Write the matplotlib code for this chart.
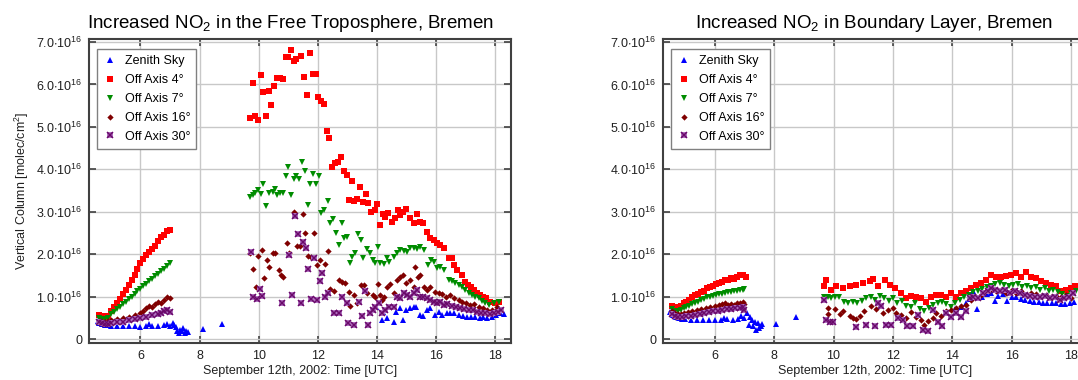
import matplotlib
matplotlib.use("Agg")
import matplotlib.pyplot as plt
from matplotlib.ticker import FixedLocator, FuncFormatter

plt.rcParams['font.family'] = ['Liberation Sans', 'DejaVu Sans']
plt.rcParams['mathtext.fontset'] = 'custom'
plt.rcParams['mathtext.rm'] = 'Liberation Sans'
plt.rcParams['mathtext.it'] = 'Liberation Sans:italic'
plt.rcParams['mathtext.bf'] = 'Liberation Sans:bold'
plt.rcParams['mathtext.default'] = 'regular'

# values in units of 1e16 molec/cm2, time in hours UTC
series_names = ["Zenith Sky", "Off Axis 4°", "Off Axis 7°", "Off Axis 16°", "Off Axis 30°"]

# ---------------- left panel: free troposphere ----------------
ft_zen_t = [4.55, 4.6, 4.7, 4.8, 4.9, 5.0, 5.2, 5.4, 5.6, 5.8, 6.0, 6.2, 6.3, 6.4, 6.6, 6.8, 6.9, 7.0,
            7.1, 7.15, 7.2, 7.25, 7.3, 7.35, 7.4, 7.45, 7.5, 7.55, 7.6, 8.1, 8.77,
            13.97, 14.17, 14.2, 14.34, 14.56, 14.65, 14.76, 14.88, 14.99, 15.1, 15.24, 15.33, 15.46,
            15.55, 15.69, 15.8, 15.97, 16.08, 16.2, 16.37, 16.48, 16.61, 16.76, 16.91, 17.04, 17.18,
            17.32, 17.47, 17.6, 17.73, 17.89, 18.03, 18.17, 18.3]
ft_zen_v = [0.42, 0.38, 0.35, 0.33, 0.32, 0.31, 0.31, 0.3, 0.3, 0.3, 0.29, 0.3, 0.35, 0.3, 0.31, 0.33, 0.35, 0.3,
            0.38, 0.32, 0.28, 0.2, 0.15, 0.22, 0.18, 0.25, 0.14, 0.2, 0.17, 0.24, 0.35,
            0.76, 0.45, 0.64, 0.49, 0.41, 0.64, 0.72, 0.45, 0.68, 0.72, 0.75, 0.76, 0.57,
            0.54, 0.68, 0.72, 0.57, 0.64, 0.57, 0.61, 0.62, 0.61, 0.57, 0.54, 0.53, 0.51,
            0.51, 0.5, 0.51, 0.49, 0.53, 0.57, 0.61, 0.59]

ft_4_t = [4.6, 4.7, 4.8, 4.9, 5.0, 5.1, 5.2, 5.3, 5.4, 5.5, 5.6, 5.7, 5.8, 5.9, 6.0, 6.1, 6.2, 6.3, 6.4,
          6.5, 6.6, 6.7, 6.8, 6.9, 7.0,
          9.69, 9.79, 9.88, 9.97, 10.07, 10.16, 10.25, 10.34, 10.43, 10.52, 10.63, 10.73, 10.82, 10.92,
          11.0, 11.09, 11.18, 11.27, 11.44, 11.54, 11.63, 11.72, 11.83, 11.93, 12.01, 12.1, 12.19,
          12.3, 12.39, 12.49, 12.59, 12.68, 12.78, 12.87, 12.97, 13.06, 13.16, 13.23, 13.33, 13.43,
          13.52, 13.64, 13.71, 13.8, 13.92, 14.0, 14.11, 14.2, 14.28, 14.36, 14.5, 14.62, 14.7, 14.79,
          14.88, 14.99, 15.1, 15.24, 15.35, 15.46, 15.55, 15.69, 15.8, 15.91, 16.03, 16.14, 16.27,
          16.42, 16.53, 16.61, 16.72, 16.87, 16.98, 17.06, 17.18, 17.27, 17.38, 17.49, 17.58, 17.69,
          17.83, 18.0, 18.11]
ft_4_v = [0.57, 0.55, 0.52, 0.55, 0.65, 0.75, 0.85, 0.95, 1.05, 1.15, 1.27, 1.4, 1.52, 1.65, 1.78, 1.88,
          1.98, 2.05, 2.12, 2.2, 2.3, 2.4, 2.45, 2.55, 2.57,
          5.2, 6.03, 5.26, 5.15, 6.21, 5.81, 5.26, 5.85, 5.52, 5.96, 6.16, 6.14, 6.13, 6.64,
          6.64, 6.81, 6.56, 6.6, 6.68, 6.18, 5.76, 6.74, 6.25, 6.25, 5.71, 5.62, 5.54,
          4.91, 4.74, 4.06, 4.14, 4.16, 4.28, 3.97, 3.86, 3.28, 3.73, 3.26, 3.29, 3.59,
          3.22, 3.42, 3.21, 3.0, 3.04, 3.18, 2.69, 2.95, 2.88, 2.96, 2.76, 2.84, 3.04, 2.92,
          3.0, 3.06, 2.84, 2.73, 2.95, 2.76, 2.73, 2.53, 2.37, 2.33, 2.26, 2.22, 2.14,
          1.9, 1.9, 1.74, 1.63, 1.51, 1.35, 1.27, 1.23, 1.15, 1.08, 1.04, 1.0, 0.96,
          0.88, 0.86, 0.88]

ft_7_t = [4.6, 4.7, 4.8, 4.9, 5.0, 5.1, 5.2, 5.3, 5.4, 5.5, 5.6, 5.7, 5.8, 5.9, 6.0, 6.1, 6.2, 6.3, 6.4,
          6.5, 6.6, 6.7, 6.8, 6.9, 7.0,
          9.69, 9.79, 9.88, 9.99, 10.07, 10.16, 10.25, 10.36, 10.47, 10.56, 10.63, 10.73, 10.82, 10.92,
          11.0, 11.1, 11.18, 11.27, 11.37, 11.46, 11.55, 11.65, 11.74, 11.85, 11.94, 12.04, 12.12,
          12.19, 12.33, 12.42, 12.51, 12.61, 12.7, 12.8, 12.89, 12.98, 13.07, 13.17, 13.26, 13.36,
          13.46, 13.54, 13.66, 13.75, 13.85, 13.94, 14.02, 14.11, 14.22, 14.34, 14.39, 14.56, 14.67,
          14.79, 14.9, 15.01, 15.12, 15.24, 15.35, 15.46, 15.58, 15.71, 15.82, 15.91, 16.03, 16.14,
          16.25, 16.42, 16.53, 16.65, 16.76, 16.87, 16.98, 17.1, 17.21, 17.32, 17.44, 17.55, 17.66,
          17.77, 17.94, 18.14]
ft_7_v = [0.5, 0.47, 0.47, 0.5, 0.58, 0.64, 0.7, 0.76, 0.82, 0.88, 0.94, 1.0, 1.06, 1.12, 1.18, 1.25,
          1.3, 1.36, 1.42, 1.48, 1.54, 1.6, 1.66, 1.72, 1.78,
          3.35, 3.39, 3.43, 3.51, 3.42, 3.65, 3.13, 3.43, 3.47, 3.53, 3.39, 3.43, 3.45, 3.83,
          4.06, 3.39, 3.76, 3.83, 3.76, 4.16, 3.97, 3.16, 3.65, 3.89, 3.65, 3.84, 2.96,
          3.04, 3.25, 2.73, 2.82, 2.49, 2.22, 2.74, 2.37, 2.41, 1.8, 1.94, 2.03, 2.47,
          2.33, 1.92, 2.11, 2.03, 1.86, 1.78, 2.16, 1.78, 1.76, 1.9, 1.82, 1.94, 2.02,
          2.1, 2.08, 2.06, 2.14, 2.14, 2.11, 2.16, 2.1, 1.74, 1.86, 1.82, 1.67, 1.7,
          1.63, 1.39, 1.37, 1.31, 1.27, 1.23, 1.15, 1.08, 1.04, 1.0, 0.96, 0.9, 0.86,
          0.8, 0.84, 0.88]

ft_16_t = [4.6, 4.7, 4.8, 4.9, 5.0, 5.2, 5.4, 5.6, 5.8, 6.0, 6.1, 6.2, 6.3, 6.4, 6.5, 6.6, 6.7, 6.8, 6.9, 7.0,
           9.71, 9.8, 9.9, 9.99, 10.11, 10.19, 10.28, 10.36, 10.47, 10.56, 10.67, 10.75, 10.82, 10.95,
           11.03, 11.2, 11.29, 11.38, 11.48, 11.57, 11.66, 11.76, 11.88, 11.97, 12.06, 12.24, 12.34,
           12.42, 12.53, 12.7, 12.81, 12.92, 13.04, 13.09, 13.21, 13.33, 13.47, 13.57, 13.66, 13.86,
           13.94, 14.03, 14.11, 14.17, 14.25, 14.34, 14.45, 14.56, 14.67, 14.79, 14.88, 14.99, 15.1,
           15.24, 15.29, 15.37, 15.46, 15.58, 15.69, 15.8, 15.97, 16.08, 16.2, 16.34, 16.48, 16.61,
           16.76, 16.87, 17.02, 17.15, 17.29, 17.44, 17.58, 17.72, 17.89, 18.06, 18.17]
ft_16_v = [0.42, 0.4, 0.4, 0.42, 0.44, 0.46, 0.49, 0.52, 0.56, 0.62, 0.66, 0.72, 0.78, 0.76, 0.82, 0.88,
           0.85, 0.92, 0.98, 0.96,
           2.03, 1.64, 1.23, 1.96, 2.1, 1.43, 1.86, 1.69, 2.03, 2.03, 1.63, 1.51, 1.45, 2.27,
           2.03, 3.0, 2.19, 2.19, 2.94, 2.49, 1.96, 1.94, 2.49, 1.74, 1.86, 1.77, 2.08,
           1.17, 1.14, 1.39, 1.35, 1.31, 1.11, 0.78, 1.04, 0.86, 1.27, 1.27, 1.08, 1.04,
           1.0, 1.3, 1.04, 0.92, 1.0, 1.23, 1.3, 1.08, 1.39, 1.47, 1.51, 1.31, 1.39,
           1.23, 1.69, 1.47, 1.51, 1.23, 1.15, 1.23, 1.11, 1.08, 1.06, 1.0, 1.04, 0.96,
           0.92, 0.88, 0.84, 0.8, 0.82, 0.76, 0.72, 0.68, 0.68, 0.76, 0.68]

ft_30_t = [4.6, 4.7, 4.8, 4.9, 5.0, 5.2, 5.4, 5.6, 5.8, 6.0, 6.2, 6.4, 6.6, 6.7, 6.8, 6.9, 7.0,
           9.73, 9.82, 9.94, 10.03, 10.12, 10.78, 11.03, 11.14, 11.23, 11.32, 11.43, 11.49, 11.6,
           11.68, 11.76, 11.88, 11.97, 12.07, 12.15, 12.25, 12.34, 12.53, 12.73, 12.83, 12.98, 13.02,
           13.21, 13.4, 13.49, 13.6, 13.68, 13.77, 13.86, 13.94, 14.05, 14.17, 14.28, 14.39, 14.56,
           14.67, 14.79, 14.9, 15.01, 15.12, 15.24, 15.35, 15.44, 15.55, 15.69, 15.8, 15.91, 16.03,
           16.14, 16.25, 16.37, 16.53, 16.68, 16.82, 16.95, 17.1, 17.24, 17.38, 17.52, 17.66, 17.81,
           17.94, 18.08, 18.19]
ft_30_v = [0.4, 0.37, 0.36, 0.36, 0.37, 0.39, 0.41, 0.44, 0.47, 0.5, 0.53, 0.56, 0.6, 0.62, 0.66, 0.68, 0.64,
           2.06, 1.0, 0.94, 1.17, 1.01, 0.86, 1.98, 1.04, 2.91, 2.47, 0.84, 2.28, 2.14,
           1.66, 0.94, 1.9, 0.92, 1.37, 1.55, 1.0, 1.08, 0.61, 0.61, 1.0, 0.86, 0.38,
           0.33, 0.88, 0.54, 1.13, 0.33, 0.61, 0.68, 0.76, 0.84, 0.61, 0.68, 0.76, 0.76,
           1.0, 0.96, 1.08, 1.04, 1.0, 1.08, 1.15, 1.0, 1.0, 0.96, 0.92, 0.88, 0.84,
           0.88, 0.8, 0.82, 0.78, 0.76, 0.72, 0.7, 0.68, 0.68, 0.64, 0.62, 0.61, 0.59,
           0.62, 0.64, 0.68]

# ---------------- right panel: boundary layer ----------------
bl_zen_t = [4.5, 4.6, 4.7, 4.8, 4.9, 5.0, 5.2, 5.4, 5.6, 5.8, 6.0, 6.2, 6.3, 6.4, 6.6, 6.8, 6.9, 7.0,
            7.1, 7.16, 7.2, 7.25, 7.3, 7.35, 7.4, 7.45, 7.5, 7.55, 7.6, 8.07, 8.75,
            14.1, 14.3, 14.45, 14.6, 14.7, 14.83, 15.0, 15.15, 15.3, 15.45, 15.55, 15.7, 15.85, 16.0,
            16.15, 16.3, 16.45, 16.6, 16.75, 16.9, 17.05, 17.2, 17.35, 17.5, 17.65, 17.8, 17.95, 18.1]
bl_zen_v = [0.63, 0.57, 0.52, 0.49, 0.47, 0.46, 0.45, 0.45, 0.44, 0.45, 0.44, 0.45, 0.5, 0.46, 0.45, 0.47, 0.55, 0.5,
            0.62, 0.34, 0.53, 0.45, 0.3, 0.4, 0.22, 0.38, 0.26, 0.3, 0.35, 0.36, 0.53,
            0.7, 0.75, 0.85, 0.95, 1.12, 0.7, 1.0, 1.05, 1.08, 0.9, 1.02, 1.05, 0.9, 1.0,
            0.98, 0.95, 0.92, 0.9, 0.88, 0.87, 0.86, 0.85, 0.84, 0.84, 0.83, 0.82, 0.84, 0.88]

bl_4_t = [4.55, 4.65, 4.75, 4.85, 4.95, 5.05, 5.15, 5.25, 5.35, 5.45, 5.55, 5.65, 5.75, 5.85, 5.95, 6.05,
          6.15, 6.25, 6.35, 6.45, 6.55, 6.65, 6.75, 6.85, 6.95, 7.05,
          9.67, 9.76, 9.93, 10.09, 10.32, 10.54, 10.77, 10.99, 11.22, 11.33, 11.5, 11.72, 11.89, 12.06,
          12.28, 12.45, 12.62, 12.79, 12.95, 13.12, 13.29, 13.46, 13.63, 13.8, 13.96, 14.13, 14.3,
          14.47, 14.64, 14.81, 14.97, 15.14, 15.31, 15.48, 15.65, 15.81, 15.98, 16.15, 16.32, 16.49,
          16.66, 16.82, 16.99, 17.16, 17.33, 17.5, 17.67, 17.84, 18.0, 18.11]
bl_4_v = [0.78, 0.75, 0.74, 0.78, 0.84, 0.88, 0.93, 0.98, 1.03, 1.06, 1.1, 1.14, 1.2, 1.23, 1.25, 1.3,
          1.33, 1.35, 1.4, 1.38, 1.44, 1.42, 1.47, 1.5, 1.51, 1.47,
          1.24, 1.4, 1.16, 1.24, 1.2, 1.24, 1.28, 1.32, 1.36, 1.41, 1.24, 1.38, 1.28, 1.2,
          1.08, 0.96, 1.02, 1.0, 0.96, 0.88, 1.0, 1.04, 1.04, 1.0, 1.08, 1.0, 1.08,
          1.12, 1.2, 1.28, 1.33, 1.4, 1.51, 1.47, 1.46, 1.49, 1.51, 1.55, 1.47, 1.57,
          1.46, 1.43, 1.36, 1.32, 1.28, 1.24, 1.12, 1.16, 1.2, 1.24]

bl_7_t = [4.55, 4.65, 4.75, 4.85, 4.95, 5.05, 5.15, 5.25, 5.35, 5.45, 5.55, 5.65, 5.75, 5.85, 5.95, 6.05,
          6.15, 6.25, 6.35, 6.45, 6.55, 6.65, 6.75, 6.85, 6.95, 7.0,
          9.67, 9.8, 9.93, 10.06, 10.2, 10.35, 10.5, 10.65, 10.8, 10.95, 11.1, 11.25, 11.4, 11.55,
          11.7, 11.85, 12.0, 12.15, 12.3, 12.45, 12.6, 12.75, 12.9, 13.05, 13.2, 13.35, 13.5, 13.65,
          13.8, 13.95, 14.1, 14.25, 14.4, 14.55, 14.7, 14.85, 15.0, 15.15, 15.3, 15.45, 15.6, 15.75,
          15.9, 16.05, 16.2, 16.35, 16.5, 16.65, 16.8, 16.95, 17.1, 17.25, 17.4, 17.55, 17.7, 17.85,
          18.0, 18.15]
bl_7_v = [0.7, 0.67, 0.65, 0.68, 0.72, 0.75, 0.78, 0.82, 0.85, 0.88, 0.92, 0.95, 0.98, 1.0, 1.02, 1.04,
          1.05, 1.07, 1.08, 1.1, 1.1, 1.12, 1.13, 1.15, 1.16, 1.18,
          1.0, 0.98, 0.96, 0.98, 1.0, 0.88, 0.86, 0.87, 0.85, 0.9, 0.96, 0.98, 0.92, 1.02,
          0.96, 0.9, 0.96, 0.84, 0.9, 0.78, 0.76, 0.84, 0.7, 0.66, 0.72, 0.8, 0.86, 0.88,
          0.82, 0.76, 0.86, 0.92, 0.98, 1.04, 1.1, 1.14, 1.18, 1.22, 1.26, 1.3, 1.32, 1.28,
          1.24, 1.27, 1.3, 1.22, 1.26, 1.2, 1.23, 1.16, 1.2, 1.13, 1.16, 1.1, 1.06, 1.02,
          1.08, 1.12]

bl_16_t = [4.55, 4.65, 4.75, 4.85, 4.95, 5.1, 5.25, 5.4, 5.55, 5.7, 5.85, 6.0, 6.15, 6.25, 6.35, 6.45,
           6.55, 6.65, 6.75, 6.85, 6.95, 7.0,
           9.81, 9.83, 10.04, 10.21, 10.32, 10.54, 10.65, 10.77, 10.88, 11.04, 11.27, 11.43, 11.66,
           11.83, 11.99, 12.1, 12.28, 12.45, 12.62, 12.79, 12.95, 13.06, 13.18, 13.34, 13.46, 13.63,
           13.8, 13.96, 14.13, 14.3, 14.47, 14.64, 14.81, 14.97, 15.14, 15.31, 15.48, 15.65, 15.81,
           15.98, 16.15, 16.32, 16.49, 16.66, 16.82, 16.99, 17.16, 17.33, 17.5, 17.67, 17.84, 18.0]
bl_16_v = [0.65, 0.62, 0.6, 0.6, 0.62, 0.64, 0.66, 0.68, 0.71, 0.73, 0.75, 0.78, 0.8, 0.82, 0.86, 0.8,
           0.82, 0.8, 0.84, 0.86, 0.87, 0.82,
           0.73, 0.6, 0.71, 0.6, 0.65, 0.55, 0.49, 0.47, 0.55, 0.65, 0.77, 0.71, 0.61,
           0.68, 0.73, 0.61, 0.57, 0.49, 0.63, 0.53, 0.44, 0.34, 0.42, 0.49, 0.61, 0.55,
           0.65, 0.68, 0.73, 0.77, 0.81, 0.92, 1.0, 1.04, 1.12, 1.18, 1.12, 1.16, 1.08,
           1.12, 1.08, 1.12, 1.04, 1.08, 1.06, 1.02, 1.04, 1.0, 1.02, 0.98, 1.04, 0.96]

bl_30_t = [4.55, 4.65, 4.75, 4.9, 5.05, 5.2, 5.35, 5.5, 5.65, 5.8, 5.95, 6.1, 6.25, 6.4, 6.55, 6.7, 6.85,
           6.95, 7.0,
           9.67, 9.76, 9.87, 9.99, 10.77, 11.1, 11.38, 11.5, 11.6, 11.77, 11.94, 12.16, 12.33, 12.47,
           12.66, 12.83, 13.0, 13.18, 13.34, 13.51, 13.66, 13.8, 13.96, 14.13, 14.3, 14.47, 14.58,
           14.7, 14.86, 15.03, 15.2, 15.31, 15.43, 15.6, 15.76, 15.93, 16.1, 16.26, 16.43, 16.6,
           16.77, 16.94, 17.1, 17.27, 17.44, 17.61, 17.77, 17.94, 18.05]
bl_30_v = [0.58, 0.55, 0.53, 0.53, 0.54, 0.55, 0.57, 0.59, 0.61, 0.63, 0.65, 0.66, 0.68, 0.7, 0.7, 0.72, 0.73,
           0.75, 0.68,
           0.92, 0.45, 0.39, 0.39, 0.28, 0.34, 0.3, 0.85, 0.77, 0.34, 0.34, 0.49, 0.45, 0.3,
           0.3, 0.57, 0.22, 0.18, 0.69, 0.39, 0.3, 0.61, 0.53, 0.61, 0.53, 0.65, 0.96,
           1.0, 0.96, 1.08, 1.12, 1.2, 1.16, 1.12, 1.16, 1.08, 1.12, 1.08, 1.04, 1.02,
           1.0, 0.98, 1.02, 0.96, 0.98, 0.93, 0.96, 1.0, 1.08]

colors = ['#0000ff', '#ff0000', '#008c00', '#800000', '#8b1a8b']


def draw_panel(ax, data, title, title_x, ylabel):
    zt, zv, t4, v4, t7, v7, t16, v16, t30, v30 = data
    ax.grid(True, color='#c8c8c8', lw=1.0)
    ax.set_axisbelow(True)
    h1, = ax.plot(zt, zv, '^', color=colors[0], ms=4.2, mew=0, ls='none')
    h2, = ax.plot(t4, v4, 's', color=colors[1], ms=4.5, mew=0, ls='none')
    h3, = ax.plot(t7, v7, 'v', color=colors[2], ms=4.5, mew=0, ls='none')
    h4, = ax.plot(t16, v16, 'D', color=colors[3], ms=3.2, mew=0, ls='none')
    h5a, = ax.plot(t30, v30, 's', color='#b070c0', ms=4.2, mew=0, ls='none')
    h5b, = ax.plot(t30, v30, 'x', color='#6a0a6a', ms=4.0, mew=1.1, ls='none')
    ax.set_xlim(4.26, 18.53)
    ax.set_ylim(-0.094, 7.07)
    ax.xaxis.set_major_locator(FixedLocator([6, 8, 10, 12, 14, 16, 18]))
    ax.yaxis.set_major_locator(FixedLocator([0, 1, 2, 3, 4, 5, 6, 7]))
    ax.yaxis.set_major_formatter(FuncFormatter(
        lambda v, p: '0' if v == 0 else r'$%.1f{\cdot}10^{16}$' % v))
    ax.tick_params(direction='in', length=5, width=1.2, color='#404040', top=True, right=True,
                   labelsize=9, pad=5, labelcolor='#202020')
    for s in ax.spines.values():
        s.set_color('#404040')
        s.set_linewidth(1.5)
    ax.set_title(title, fontsize=13.5, pad=8, x=title_x)
    ax.set_xlabel('September 12th, 2002: Time [UTC]', fontsize=9, labelpad=2, color='#202020')
    if ylabel:
        ax.set_ylabel('Vertical Column [molec/cm$^2$]', fontsize=9, labelpad=3, color='#202020')
    leg = ax.legend([h1, h2, h3, h4, (h5a, h5b)], series_names, loc='upper left',
                    bbox_to_anchor=(0.019, 0.967), borderaxespad=0, fontsize=9,
                    fancybox=False, framealpha=1, edgecolor='#808080', handlelength=1.0,
                    handletextpad=0.7, labelspacing=0.55, borderpad=0.5)
    leg.get_frame().set_linewidth(1.0)


fig = plt.figure(figsize=(10.78, 3.8), dpi=100)
ax1 = fig.add_axes([89 / 1078, 37 / 380, 422 / 1078, 304 / 380])
ax2 = fig.add_axes([663 / 1078, 37 / 380, 424 / 1078, 304 / 380])

draw_panel(ax1, (ft_zen_t, ft_zen_v, ft_4_t, ft_4_v, ft_7_t, ft_7_v, ft_16_t, ft_16_v, ft_30_t, ft_30_v),
           'Increased NO$_2$ in the Free Troposphere, Bremen', 0.477, True)
draw_panel(ax2, (bl_zen_t, bl_zen_v, bl_4_t, bl_4_v, bl_7_t, bl_7_v, bl_16_t, bl_16_v, bl_30_t, bl_30_v),
           'Increased NO$_2$ in Boundary Layer, Bremen', 0.497, False)

fig.savefig('out.png', dpi=100)
